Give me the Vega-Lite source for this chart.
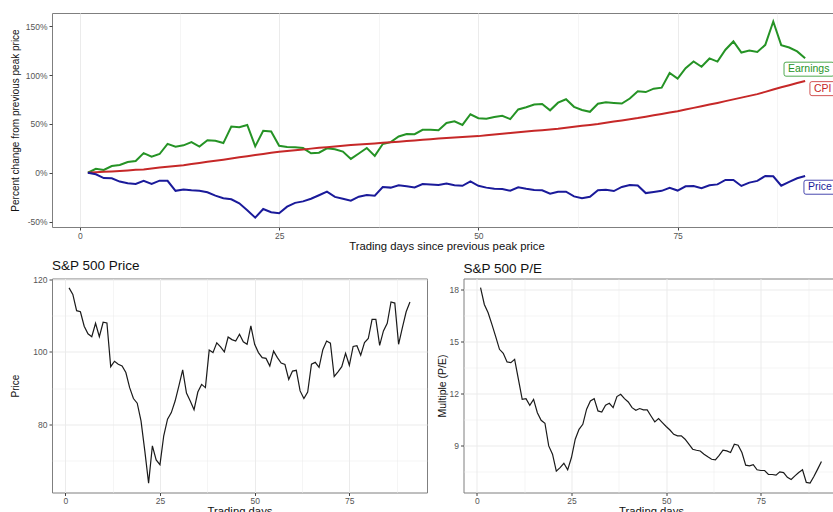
{
  "$schema": "https://vega.github.io/schema/vega-lite/v6.json",
  "padding": {"left": 9, "top": 12, "right": 0, "bottom": 0},
  "background": "white",
  "config": {
    "font": "Liberation Sans",
    "view": {"stroke": "#7f7f7f", "strokeWidth": 1},
    "axis": {
      "domain": false,
      "gridColor": "#ebebeb",
      "tickColor": "#444444",
      "tickSize": 3,
      "labelColor": "#555555",
      "labelFontSize": 8.5,
      "labelPadding": 2,
      "titleColor": "#111111",
      "titleFontWeight": "normal",
      "labelFlush": false,
      "labelOverlap": false
    },
    "axisX": {"labelPadding": 1},
    "title": {"fontSize": 13.5, "anchor": "start", "frame": "group", "fontWeight": "normal", "color": "#111111", "offset": 3}
  },
  "datasets": {
    "series": [
      {"day": 1, "sp_price": 117.7, "pe": 18.1, "Earnings": 0, "CPI": 0, "Price": 0},
      {"day": 2, "sp_price": 115.9, "pe": 17.13, "Earnings": 4.0, "CPI": 0.5, "Price": -1.5},
      {"day": 3, "sp_price": 111.4, "pe": 16.65, "Earnings": 2.9, "CPI": 1.0, "Price": -5.4},
      {"day": 4, "sp_price": 111.1, "pe": 15.98, "Earnings": 6.9, "CPI": 1.4, "Price": -5.6},
      {"day": 5, "sp_price": 107.1, "pe": 15.27, "Earnings": 7.9, "CPI": 1.9, "Price": -9.0},
      {"day": 6, "sp_price": 105.0, "pe": 14.54, "Earnings": 11.0, "CPI": 2.4, "Price": -10.8},
      {"day": 7, "sp_price": 104.2, "pe": 14.31, "Earnings": 12.0, "CPI": 3.0, "Price": -11.5},
      {"day": 8, "sp_price": 107.9, "pe": 13.81, "Earnings": 20.1, "CPI": 3.4, "Price": -8.3},
      {"day": 9, "sp_price": 104.2, "pe": 13.77, "Earnings": 16.4, "CPI": 4.4, "Price": -11.5},
      {"day": 10, "sp_price": 108.2, "pe": 13.96, "Earnings": 19.2, "CPI": 5.4, "Price": -8.1},
      {"day": 11, "sp_price": 108.0, "pe": 12.81, "Earnings": 29.6, "CPI": 6.2, "Price": -8.2},
      {"day": 12, "sp_price": 95.9, "pe": 11.65, "Earnings": 26.6, "CPI": 7.0, "Price": -18.5},
      {"day": 13, "sp_price": 97.4, "pe": 11.69, "Earnings": 28.1, "CPI": 7.8, "Price": -17.2},
      {"day": 14, "sp_price": 96.6, "pe": 11.31, "Earnings": 31.3, "CPI": 8.9, "Price": -17.9},
      {"day": 15, "sp_price": 96.1, "pe": 11.65, "Earnings": 26.8, "CPI": 10.0, "Price": -18.4},
      {"day": 16, "sp_price": 94.3, "pe": 10.88, "Earnings": 33.3, "CPI": 11.2, "Price": -19.9},
      {"day": 17, "sp_price": 90.1, "pe": 10.44, "Earnings": 32.7, "CPI": 12.3, "Price": -23.4},
      {"day": 18, "sp_price": 87.1, "pe": 10.27, "Earnings": 30.4, "CPI": 13.4, "Price": -26.0},
      {"day": 19, "sp_price": 85.8, "pe": 8.96, "Earnings": 47.3, "CPI": 14.6, "Price": -27.1},
      {"day": 20, "sp_price": 80.9, "pe": 8.48, "Earnings": 46.7, "CPI": 15.9, "Price": -31.3},
      {"day": 21, "sp_price": 72.6, "pe": 7.5, "Earnings": 48.9, "CPI": 17.0, "Price": -38.3},
      {"day": 22, "sp_price": 63.7, "pe": 7.71, "Earnings": 27.0, "CPI": 18.1, "Price": -45.9},
      {"day": 23, "sp_price": 74.0, "pe": 7.96, "Earnings": 43.0, "CPI": 19.2, "Price": -37.1},
      {"day": 24, "sp_price": 70.1, "pe": 7.58, "Earnings": 42.2, "CPI": 20.4, "Price": -40.4},
      {"day": 25, "sp_price": 68.8, "pe": 8.29, "Earnings": 27.6, "CPI": 21.4, "Price": -41.5},
      {"day": 26, "sp_price": 76.8, "pe": 9.35, "Earnings": 26.3, "CPI": 22.3, "Price": -34.7},
      {"day": 27, "sp_price": 81.4, "pe": 9.92, "Earnings": 26.2, "CPI": 23.1, "Price": -30.8},
      {"day": 28, "sp_price": 83.2, "pe": 10.21, "Earnings": 25.3, "CPI": 23.8, "Price": -29.3},
      {"day": 29, "sp_price": 86.4, "pe": 11.08, "Earnings": 19.9, "CPI": 24.7, "Price": -26.6},
      {"day": 30, "sp_price": 90.6, "pe": 11.56, "Earnings": 20.5, "CPI": 25.5, "Price": -23.0},
      {"day": 31, "sp_price": 95.0, "pe": 11.69, "Earnings": 25.0, "CPI": 26.2, "Price": -19.3},
      {"day": 32, "sp_price": 88.6, "pe": 10.98, "Earnings": 24.1, "CPI": 26.9, "Price": -24.7},
      {"day": 33, "sp_price": 86.4, "pe": 10.92, "Earnings": 21.7, "CPI": 27.6, "Price": -26.6},
      {"day": 34, "sp_price": 84.0, "pe": 11.31, "Earnings": 14.2, "CPI": 28.3, "Price": -28.6},
      {"day": 35, "sp_price": 88.9, "pe": 11.42, "Earnings": 19.7, "CPI": 29.0, "Price": -24.5},
      {"day": 36, "sp_price": 91.0, "pe": 11.17, "Earnings": 25.3, "CPI": 29.5, "Price": -22.7},
      {"day": 37, "sp_price": 90.1, "pe": 11.81, "Earnings": 17.3, "CPI": 30.0, "Price": -23.4},
      {"day": 38, "sp_price": 100.5, "pe": 11.94, "Earnings": 29.4, "CPI": 30.6, "Price": -14.6},
      {"day": 39, "sp_price": 99.8, "pe": 11.69, "Earnings": 31.3, "CPI": 31.2, "Price": -15.2},
      {"day": 40, "sp_price": 102.5, "pe": 11.5, "Earnings": 37.1, "CPI": 31.8, "Price": -12.9},
      {"day": 41, "sp_price": 101.4, "pe": 11.17, "Earnings": 39.6, "CPI": 32.4, "Price": -13.8},
      {"day": 42, "sp_price": 100.0, "pe": 11.02, "Earnings": 39.5, "CPI": 33.1, "Price": -15.0},
      {"day": 43, "sp_price": 104.1, "pe": 11.12, "Earnings": 44.0, "CPI": 33.7, "Price": -11.6},
      {"day": 44, "sp_price": 103.4, "pe": 11.04, "Earnings": 44.0, "CPI": 34.4, "Price": -12.1},
      {"day": 45, "sp_price": 103.0, "pe": 11.04, "Earnings": 43.5, "CPI": 35.0, "Price": -12.5},
      {"day": 46, "sp_price": 104.9, "pe": 10.69, "Earnings": 50.9, "CPI": 35.6, "Price": -10.9},
      {"day": 47, "sp_price": 102.8, "pe": 10.35, "Earnings": 52.7, "CPI": 36.1, "Price": -12.7},
      {"day": 48, "sp_price": 102.1, "pe": 10.54, "Earnings": 49.0, "CPI": 36.6, "Price": -13.3},
      {"day": 49, "sp_price": 107.2, "pe": 10.31, "Earnings": 59.9, "CPI": 37.0, "Price": -8.9},
      {"day": 50, "sp_price": 102.1, "pe": 10.08, "Earnings": 55.8, "CPI": 37.5, "Price": -13.3},
      {"day": 51, "sp_price": 99.8, "pe": 9.88, "Earnings": 55.3, "CPI": 38.3, "Price": -15.2},
      {"day": 52, "sp_price": 98.4, "pe": 9.63, "Earnings": 57.1, "CPI": 39.1, "Price": -16.4},
      {"day": 53, "sp_price": 98.2, "pe": 9.54, "Earnings": 58.3, "CPI": 39.9, "Price": -16.6},
      {"day": 54, "sp_price": 96.1, "pe": 9.54, "Earnings": 54.9, "CPI": 40.7, "Price": -18.4},
      {"day": 55, "sp_price": 100.2, "pe": 9.35, "Earnings": 64.8, "CPI": 41.5, "Price": -14.9},
      {"day": 56, "sp_price": 98.4, "pe": 9.06, "Earnings": 67.0, "CPI": 42.2, "Price": -16.4},
      {"day": 57, "sp_price": 96.9, "pe": 8.77, "Earnings": 69.9, "CPI": 42.9, "Price": -17.7},
      {"day": 58, "sp_price": 96.5, "pe": 8.71, "Earnings": 70.4, "CPI": 43.6, "Price": -18.0},
      {"day": 59, "sp_price": 92.4, "pe": 8.67, "Earnings": 63.9, "CPI": 44.3, "Price": -21.5},
      {"day": 60, "sp_price": 94.7, "pe": 8.48, "Earnings": 71.7, "CPI": 45.0, "Price": -19.5},
      {"day": 61, "sp_price": 94.9, "pe": 8.33, "Earnings": 75.2, "CPI": 46.0, "Price": -19.4},
      {"day": 62, "sp_price": 89.2, "pe": 8.19, "Earnings": 67.5, "CPI": 47.0, "Price": -24.2},
      {"day": 63, "sp_price": 87.1, "pe": 8.15, "Earnings": 64.3, "CPI": 48.0, "Price": -26.0},
      {"day": 64, "sp_price": 88.9, "pe": 8.42, "Earnings": 62.4, "CPI": 49.0, "Price": -24.5},
      {"day": 65, "sp_price": 96.6, "pe": 8.71, "Earnings": 70.6, "CPI": 50.0, "Price": -17.9},
      {"day": 66, "sp_price": 97.1, "pe": 8.67, "Earnings": 72.2, "CPI": 51.2, "Price": -17.5},
      {"day": 67, "sp_price": 95.7, "pe": 8.58, "Earnings": 71.5, "CPI": 52.4, "Price": -18.7},
      {"day": 68, "sp_price": 100.6, "pe": 9.06, "Earnings": 70.8, "CPI": 53.6, "Price": -14.5},
      {"day": 69, "sp_price": 103.0, "pe": 9.0, "Earnings": 76.0, "CPI": 54.8, "Price": -12.5},
      {"day": 70, "sp_price": 102.4, "pe": 8.58, "Earnings": 83.5, "CPI": 56.0, "Price": -13.0},
      {"day": 71, "sp_price": 93.2, "pe": 7.85, "Earnings": 82.6, "CPI": 57.4, "Price": -20.8},
      {"day": 72, "sp_price": 94.5, "pe": 7.81, "Earnings": 86.1, "CPI": 58.8, "Price": -19.7},
      {"day": 73, "sp_price": 95.9, "pe": 7.88, "Earnings": 87.1, "CPI": 60.2, "Price": -18.5},
      {"day": 74, "sp_price": 99.6, "pe": 7.58, "Earnings": 102.1, "CPI": 61.6, "Price": -15.4},
      {"day": 75, "sp_price": 96.3, "pe": 7.54, "Earnings": 96.4, "CPI": 63.0, "Price": -18.2},
      {"day": 76, "sp_price": 101.5, "pe": 7.54, "Earnings": 107.0, "CPI": 64.7, "Price": -13.8},
      {"day": 77, "sp_price": 101.7, "pe": 7.31, "Earnings": 113.9, "CPI": 66.4, "Price": -13.6},
      {"day": 78, "sp_price": 99.1, "pe": 7.31, "Earnings": 108.5, "CPI": 68.1, "Price": -15.8},
      {"day": 79, "sp_price": 102.6, "pe": 7.27, "Earnings": 117.0, "CPI": 69.8, "Price": -12.8},
      {"day": 80, "sp_price": 103.7, "pe": 7.46, "Earnings": 113.8, "CPI": 71.5, "Price": -11.9},
      {"day": 81, "sp_price": 109.0, "pe": 7.42, "Earnings": 125.9, "CPI": 73.3, "Price": -7.4},
      {"day": 82, "sp_price": 109.0, "pe": 7.15, "Earnings": 134.4, "CPI": 75.1, "Price": -7.4},
      {"day": 83, "sp_price": 101.8, "pe": 7.02, "Earnings": 123.0, "CPI": 76.9, "Price": -13.5},
      {"day": 84, "sp_price": 105.8, "pe": 7.23, "Earnings": 125.0, "CPI": 78.7, "Price": -10.1},
      {"day": 85, "sp_price": 107.9, "pe": 7.42, "Earnings": 123.6, "CPI": 80.5, "Price": -8.3},
      {"day": 86, "sp_price": 113.8, "pe": 7.58, "Earnings": 130.9, "CPI": 82.8, "Price": -3.3},
      {"day": 87, "sp_price": 113.5, "pe": 6.85, "Earnings": 154.8, "CPI": 85.2, "Price": -3.6},
      {"day": 88, "sp_price": 102.1, "pe": 6.81, "Earnings": 130.6, "CPI": 87.5, "Price": -13.3},
      {"day": 89, "sp_price": 106.7, "pe": 7.19, "Earnings": 128.2, "CPI": 89.6, "Price": -9.3},
      {"day": 90, "sp_price": 111.1, "pe": 7.62, "Earnings": 124.2, "CPI": 91.8, "Price": -5.6},
      {"day": 91, "sp_price": 113.8, "pe": 8.06, "Earnings": 117.1, "CPI": 94.0, "Price": -3.3}
    ],
    "labels": [
      {"series": "Earnings", "day": 88.35, "pct": 106.0},
      {"series": "CPI", "day": 91.6, "pct": 86.1},
      {"series": "Price", "day": 90.85, "pct": -14.8}
    ]
  },
  "spacing": 6.5,
  "vconcat": [
    {
      "width": 789,
      "height": 214,
      "layer": [
        {
          "mark": {"type": "rule", "color": "#333333", "strokeWidth": 1.1},
          "encoding": {
            "y": {"datum": 0, "type": "quantitative", "title": "Percent change from previous peak price"}
          }
        },
        {
          "data": {"name": "series"},
          "transform": [{"fold": ["Earnings", "CPI", "Price"], "as": ["series", "pct"]}],
          "mark": {"type": "line", "strokeWidth": 2},
          "encoding": {
            "x": {
              "field": "day", "type": "quantitative",
              "scale": {"domain": [-3.5, 95.5], "nice": false, "zero": false},
              "axis": {
                "title": "Trading days since previous peak price",
                "titleFontSize": 11.3, "titlePadding": 1, "minExtent": 12, "maxExtent": 12,
                "values": [0, 12.5, 25, 37.5, 50, 62.5, 75, 87.5],
                "labelExpr": "datum.value % 25 === 0 ? datum.label : ''",
                "gridWidth": {"condition": {"test": "datum.value % 25 === 0", "value": 1}, "value": 0.5},
                "tickOpacity": {"condition": {"test": "datum.value % 25 === 0", "value": 1}, "value": 0}
              }
            },
            "y": {
              "field": "pct", "type": "quantitative",
              "scale": {"domain": [-55.5, 163.5], "nice": false, "zero": false},
              "axis": {
                "title": "Percent change from previous peak price",
                "titleFontSize": 10, "titlePadding": 4, "minExtent": 28, "maxExtent": 28,
                "values": [-50, -25, 0, 25, 50, 75, 100, 125, 150],
                "labelExpr": "datum.value % 50 === 0 ? datum.value + '%' : ''",
                "gridWidth": {"condition": {"test": "datum.value % 50 === 0", "value": 1}, "value": 0.5},
                "tickOpacity": {"condition": {"test": "datum.value % 50 === 0", "value": 1}, "value": 0}
              }
            },
            "color": {
              "field": "series", "type": "nominal", "legend": null,
              "scale": {"domain": ["Earnings", "CPI", "Price"], "range": ["#259325", "#C62828", "#1A1A9A"]}
            }
          }
        },
        {
          "data": {"name": "labels"},
          "mark": {"type": "point", "filled": true, "fill": "white", "size": 400, "strokeWidth": 0.8, "opacity": 1},
          "encoding": {
            "x": {"field": "day", "type": "quantitative", "title": "Trading days since previous peak price"},
            "y": {"field": "pct", "type": "quantitative", "title": "Percent change from previous peak price"},
            "stroke": {
              "field": "series", "type": "nominal", "legend": null,
              "scale": {"domain": ["Earnings", "CPI", "Price"], "range": ["#259325", "#C62828", "#1A1A9A"]}
            },
            "shape": {
              "field": "series", "type": "nominal", "legend": null,
              "scale": {
                "domain": ["Earnings", "CPI", "Price"],
                "range": [
                  "M0.2,-0.7H4.8Q5,-0.7 5,-0.5V0.5Q5,0.7 4.8,0.7H0.2Q0,0.7 0,0.5V-0.5Q0,-0.7 0.2,-0.7Z",
                  "M0.2,-0.7H2.4Q2.6,-0.7 2.6,-0.5V0.5Q2.6,0.7 2.4,0.7H0.2Q0,0.7 0,0.5V-0.5Q0,-0.7 0.2,-0.7Z",
                  "M0.2,-0.7H3.1Q3.3,-0.7 3.3,-0.5V0.5Q3.3,0.7 3.1,0.7H0.2Q0,0.7 0,0.5V-0.5Q0,-0.7 0.2,-0.7Z"
                ]
              }
            }
          }
        },
        {
          "data": {"name": "labels"},
          "mark": {"type": "text", "align": "left", "baseline": "middle", "dx": 4, "fontSize": 10.5},
          "encoding": {
            "x": {"field": "day", "type": "quantitative", "title": "Trading days since previous peak price"},
            "y": {"field": "pct", "type": "quantitative", "title": "Percent change from previous peak price"},
            "text": {"field": "series"},
            "color": {
              "field": "series", "type": "nominal", "legend": null,
              "scale": {"domain": ["Earnings", "CPI", "Price"], "range": ["#259325", "#C62828", "#1A1A9A"]}
            }
          }
        }
      ]
    },
    {
      "spacing": 8.5,
      "hconcat": [
        {
          "width": 375,
          "height": 214,
          "title": "S&P 500 Price",
          "data": {"name": "series"},
          "mark": {"type": "line", "color": "#1a1a1a", "strokeWidth": 1.2},
          "encoding": {
            "x": {
              "field": "day", "type": "quantitative",
              "scale": {"domain": [-3.5, 95.5], "nice": false, "zero": false},
              "axis": {
                "title": "Trading days",
                "titleFontSize": 11.3, "titlePadding": 1, "minExtent": 12, "maxExtent": 12,
                "values": [0, 12.5, 25, 37.5, 50, 62.5, 75, 87.5],
                "labelExpr": "datum.value % 25 === 0 ? datum.label : ''",
                "gridWidth": {"condition": {"test": "datum.value % 25 === 0", "value": 1}, "value": 0.5},
                "tickOpacity": {"condition": {"test": "datum.value % 25 === 0", "value": 1}, "value": 0}
              }
            },
            "y": {
              "field": "sp_price", "type": "quantitative",
              "scale": {"domain": [61.1, 120.3], "nice": false, "zero": false},
              "axis": {
                "title": "Price",
                "titleFontSize": 10, "titlePadding": 4, "minExtent": 28, "maxExtent": 28,
                "values": [70, 80, 90, 100, 110, 120],
                "labelExpr": "datum.value % 20 === 0 ? datum.label : ''",
                "gridWidth": {"condition": {"test": "datum.value % 20 === 0", "value": 1}, "value": 0.5},
                "tickOpacity": {"condition": {"test": "datum.value % 20 === 0", "value": 1}, "value": 0}
              }
            }
          }
        },
        {
          "width": 375,
          "height": 214,
          "title": "S&P 500 P/E",
          "data": {"name": "series"},
          "mark": {"type": "line", "color": "#1a1a1a", "strokeWidth": 1.2},
          "encoding": {
            "x": {
              "field": "day", "type": "quantitative",
              "scale": {"domain": [-3.5, 95.5], "nice": false, "zero": false},
              "axis": {
                "title": "Trading days",
                "titleFontSize": 11.3, "titlePadding": 1, "minExtent": 12, "maxExtent": 12,
                "values": [0, 12.5, 25, 37.5, 50, 62.5, 75, 87.5],
                "labelExpr": "datum.value % 25 === 0 ? datum.label : ''",
                "gridWidth": {"condition": {"test": "datum.value % 25 === 0", "value": 1}, "value": 0.5},
                "tickOpacity": {"condition": {"test": "datum.value % 25 === 0", "value": 1}, "value": 0}
              }
            },
            "y": {
              "field": "pe", "type": "quantitative",
              "scale": {"domain": [6.27, 18.63], "nice": false, "zero": false},
              "axis": {
                "title": "Multiple (P/E)",
                "titleFontSize": 10.5, "titlePadding": 2, "minExtent": 14, "maxExtent": 14,
                "values": [7.5, 9, 10.5, 12, 13.5, 15, 16.5, 18],
                "labelExpr": "datum.value % 3 === 0 ? datum.label : ''",
                "gridWidth": {"condition": {"test": "datum.value % 3 === 0", "value": 1}, "value": 0.5},
                "tickOpacity": {"condition": {"test": "datum.value % 3 === 0", "value": 1}, "value": 0}
              }
            }
          }
        }
      ]
    }
  ]
}
